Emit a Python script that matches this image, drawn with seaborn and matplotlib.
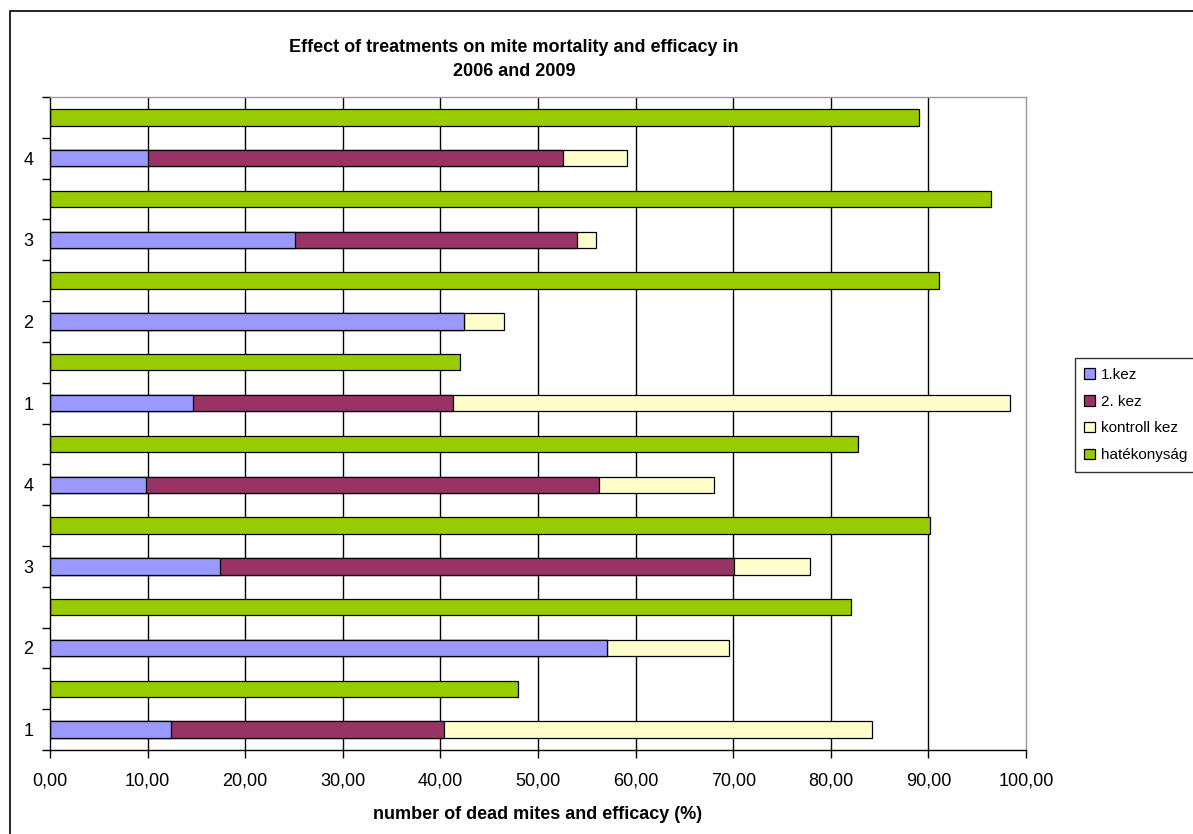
import numpy as np
import pandas as pd
import matplotlib
matplotlib.use("Agg")
import matplotlib.pyplot as plt
from matplotlib.patches import Patch, Rectangle
import seaborn as sns

# ── Data (bottom to top: 2006 treatments 1-4, then 2009 treatments 1-4) ──
treatments = ["1", "2", "3", "4", "1", "2", "3", "4"]
kez1 = [12.4, 57.1, 17.4, 9.8, 14.7, 42.4, 25.1, 10.0]
kez2 = [28.0, 0.0, 52.7, 46.4, 26.6, 0.0, 28.9, 42.6]
kontroll = [43.8, 12.5, 7.8, 11.8, 57.1, 4.1, 1.9, 6.5]
hatekonysag = [48.0, 82.1, 90.2, 82.8, 42.0, 91.1, 96.4, 89.0]

series_names = ["1.kez", "2. kez", "kontroll kez", "hatékonyság"]
colors = ["#9999FF", "#993366", "#FFFFCC", "#99CC00"]

# ── Build row table: each treatment gets a stacked row + an efficacy row ──
rows = []
for i, t in enumerate(treatments):
    c1 = kez1[i]
    c2 = c1 + kez2[i]
    c3 = c2 + kontroll[i]
    rows.append({"row": f"s{i}", "label": t, "c1": c1, "c2": c2, "c3": c3, "eff": np.nan})
    rows.append({"row": f"e{i}", "label": "", "c1": np.nan, "c2": np.nan, "c3": np.nan,
                 "eff": hatekonysag[i]})
df = pd.DataFrame(rows)
order = list(df["row"])[::-1]  # top to bottom

# ── Style ────────────────────────────────────────────────
sns.set_theme(style="white")
plt.rcParams["font.family"] = ["Liberation Sans", "DejaVu Sans"]
plt.rcParams["text.color"] = "black"
plt.rcParams["axes.labelcolor"] = "black"
plt.rcParams["xtick.color"] = "black"
plt.rcParams["ytick.color"] = "black"

fig = plt.figure(figsize=(11.93, 8.34), dpi=100)
ax = fig.add_axes([50 / 1193, 1 - 750 / 834, 976 / 1193, 653 / 834])

ax.set_xlim(0, 100)
for x in range(10, 100, 10):
    ax.axvline(x, color="black", lw=1, zorder=0)

bar_kw = dict(orient="h", order=order, width=0.4, edgecolor="black", linewidth=0.9,
              ax=ax, errorbar=None, saturation=1)
sns.barplot(data=df, y="row", x="c3", color=colors[2], **bar_kw)
sns.barplot(data=df, y="row", x="c2", color=colors[1], **bar_kw)
sns.barplot(data=df, y="row", x="c1", color=colors[0], **bar_kw)
sns.barplot(data=df, y="row", x="eff", color=colors[3], **bar_kw)

# hide zero-width segments
for p in ax.patches:
    if p.get_width() == 0 or np.isnan(p.get_width()):
        p.set_visible(False)

ax.set_ylim(len(order) - 0.5, -0.5)
labels = df.set_index("row").loc[order, "label"].tolist()
ax.set_yticks(range(len(order)))
ax.set_yticklabels(labels, fontsize=13)
ax.set_yticks(np.arange(-0.5, len(order), 1), minor=True)
ax.tick_params(axis="y", which="major", length=0, pad=12)
ax.tick_params(axis="y", which="minor", length=6, width=1, color="black", left=True)

ax.set_xticks(range(0, 101, 10))
ax.set_xticklabels([f"{v},00" for v in range(0, 101, 10)], fontsize=13)
ax.tick_params(axis="x", which="major", length=6, width=1, color="black", bottom=True, pad=10)

ax.set_ylabel("")
ax.set_xlabel("number of dead mites and efficacy (%)", fontsize=13, fontweight="bold", labelpad=12)

for side in ["top", "right"]:
    ax.spines[side].set_color("#999999")
    ax.spines[side].set_linewidth(1)
for side in ["left", "bottom"]:
    ax.spines[side].set_color("black")
    ax.spines[side].set_linewidth(1)

fig.text(514 / 1193, 1 - 47 / 834, "Effect of treatments on mite mortality and efficacy in",
         ha="center", va="center", fontsize=13, fontweight="bold")
fig.text(514 / 1193, 1 - 71 / 834, "2006 and 2009",
         ha="center", va="center", fontsize=13, fontweight="bold")

handles = [Patch(facecolor=c, edgecolor="black", linewidth=0.9) for c in colors]
fig.legend(handles, series_names, loc="center left", bbox_to_anchor=(1067 / 1193, 1 - 415 / 834),
           frameon=True, fancybox=False, edgecolor="black", fontsize=11,
           handlelength=0.7, handleheight=0.7, handletextpad=0.4, labelspacing=0.85,
           borderpad=0.6)

# outer chart border
fig.add_artist(Rectangle((10 / 1193, -0.01), 1.02, 1 - 11 / 834 + 0.01,
                         transform=fig.transFigure, fill=False, edgecolor="black", lw=1.2))

fig.savefig("out.png", dpi=100)
